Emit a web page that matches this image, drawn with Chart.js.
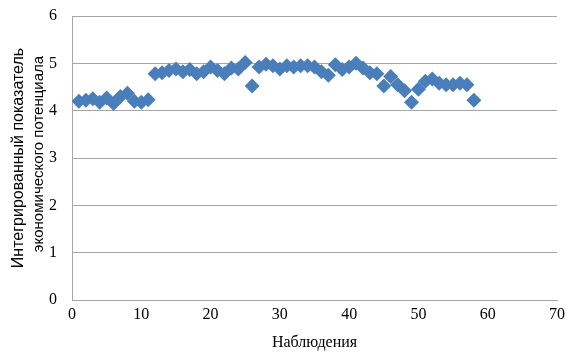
<!DOCTYPE html>
<html>
<head>
<meta charset="utf-8">
<script src="https://cdn.jsdelivr.net/npm/chart.js@4.4.1/dist/chart.umd.min.js"></script>
<style>
  html, body { margin: 0; padding: 0; background: #ffffff; }
  #wrap { width: 567px; height: 358px; }
</style>
</head>
<body>
<div id="wrap"><canvas id="chart" width="567" height="358"></canvas></div>
<script>
// Observation numbers and the integrated economic potential index
const observations = [1, 2, 3, 4, 5, 6, 7, 8, 9, 10,
  11, 12, 13, 14, 15, 16, 17, 18, 19, 20,
  21, 22, 23, 24, 25, 26, 27, 28, 29, 30,
  31, 32, 33, 34, 35, 36, 37, 38, 39, 40,
  41, 42, 43, 44, 45, 46, 47, 48, 49, 50,
  51, 52, 53, 54, 55, 56, 57, 58];
const indexValues = [4.20, 4.22, 4.25, 4.18, 4.27, 4.15, 4.30, 4.37, 4.20, 4.18,
  4.23, 4.78, 4.80, 4.85, 4.88, 4.82, 4.87, 4.78, 4.82, 4.92,
  4.85, 4.78, 4.90, 4.88, 5.02, 4.52, 4.92, 4.98, 4.95, 4.88,
  4.95, 4.92, 4.95, 4.95, 4.92, 4.82, 4.75, 4.97, 4.87, 4.92,
  5.00, 4.90, 4.80, 4.78, 4.52, 4.72, 4.55, 4.42, 4.18, 4.45,
  4.62, 4.67, 4.58, 4.55, 4.55, 4.58, 4.55, 4.22];
const xTicks = [0, 10, 20, 30, 40, 50, 60, 70];
const yTicks = [0, 1, 2, 3, 4, 5, 6];

const xTitle = 'Наблюдения';
const yTitleLines = ['Интегрированный показатель', 'экономического потенциала'];

const points = observations.map((o, i) => ({ x: o, y: indexValues[i] }));

const gridColor = '#a6a6a6';
const serif = '"Liberation Serif", "Times New Roman", serif';
const sans = '"Liberation Sans", Arial, sans-serif';

// Two-line rotated title on the left side, lines in different sizes
const yTitlePlugin = {
  id: 'yTitle',
  afterDraw(chart) {
    const ctx = chart.ctx;
    const area = chart.chartArea;
    const cy = (area.top + area.bottom) / 2;
    const specs = [
      { text: yTitleLines[0], size: 16, x: 19, dy: 0 },
      { text: yTitleLines[1], size: 15, x: 39, dy: -4 }
    ];
    ctx.save();
    ctx.fillStyle = '#000000';
    ctx.textAlign = 'center';
    ctx.textBaseline = 'middle';
    specs.forEach(s => {
      ctx.save();
      ctx.translate(s.x, cy + s.dy);
      ctx.rotate(-Math.PI / 2);
      ctx.font = s.size + 'px ' + sans;
      ctx.fillText(s.text, 0, 0);
      ctx.restore();
    });
    ctx.restore();
  }
};

new Chart(document.getElementById('chart'), {
  type: 'scatter',
  data: {
    datasets: [{
      data: points,
      pointStyle: 'rectRot',
      pointRadius: 7.5,
      pointHoverRadius: 7.5,
      backgroundColor: '#4a7ebb',
      borderColor: '#4a7ebb',
      borderWidth: 0
    }]
  },
  options: {
    responsive: false,
    animation: false,
    devicePixelRatio: 1,
    layout: { padding: { left: 0, right: 10, top: 16, bottom: 0 } },
    plugins: {
      legend: { display: false },
      tooltip: { enabled: false }
    },
    scales: {
      x: {
        type: 'linear',
        min: xTicks[0],
        max: xTicks[xTicks.length - 1],
        afterBuildTicks(scale) { scale.ticks = xTicks.map(v => ({ value: v })); },
        afterFit(scale) { scale.height = 58; scale.paddingLeft = 0; scale.paddingRight = 0; },
        grid: { display: false, drawTicks: false },
        border: { display: true, color: gridColor, width: 1 },
        ticks: {
          color: '#000000',
          padding: 5,
          font: { family: serif, size: 16 },
          maxRotation: 0
        },
        title: {
          display: true,
          text: xTitle,
          color: '#000000',
          font: { family: serif, size: 16 },
          padding: { top: 2, bottom: 6 }
        }
      },
      y: {
        type: 'linear',
        min: yTicks[0],
        max: yTicks[yTicks.length - 1],
        afterBuildTicks(scale) { scale.ticks = yTicks.map(v => ({ value: v })); },
        afterFit(scale) { scale.width = 72; scale.paddingTop = 0; scale.paddingBottom = 0; },
        grid: { color: gridColor, lineWidth: 1, drawTicks: false },
        border: { display: true, color: gridColor, width: 1 },
        ticks: {
          color: '#000000',
          padding: 15,
          font: { family: serif, size: 16 }
        }
      }
    }
  },
  plugins: [yTitlePlugin]
});
</script>
</body>
</html>
